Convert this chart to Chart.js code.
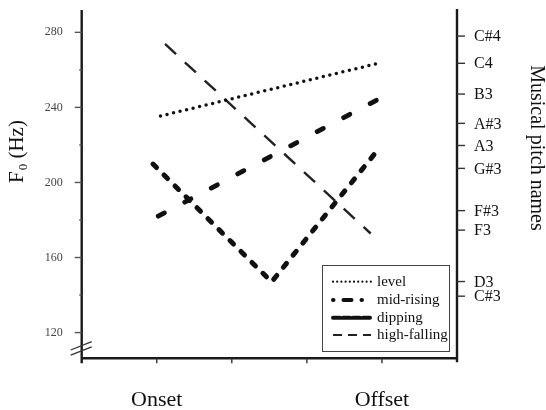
<!DOCTYPE html>
<html>
<head>
<meta charset="utf-8">
<script src="https://cdn.jsdelivr.net/npm/chart.js@4.4.1/dist/chart.umd.min.js"></script>
<style>
  html, body { margin: 0; padding: 0; background: #fff; }
  #wrap { width: 546px; height: 410px; }
</style>
</head>
<body>
<div id="wrap"><canvas id="chart" width="546" height="410"></canvas></div>
<script>
// x positions: 0..5 along the time axis, Onset = 1, Offset = 4
var xTicks = [1, 2, 3, 4];
var xLabels = ['Onset', 'Offset'];
var xLabelPos = [1, 4];

// left axis (Hz)
var yTicks = [120, 160, 200, 240, 280];
var yMinorTicks = [140, 180, 220, 260];

// right axis pitch names and their frequencies
var pitchNames = ['C#4', 'C4', 'B3', 'A#3', 'A3', 'G#3', 'F#3', 'F3', 'D3', 'C#3'];
var pitchHz = [278.0, 263.5, 247.1, 231.5, 219.7, 207.5, 185.0, 174.6, 147.2, 139.4];

// the four tone contours
var seriesNames = ['level', 'mid-rising', 'dipping', 'high-falling'];
var levelX = [1.05, 3.95];
var levelHz = [235.4, 263.5];
var midRisingX = [1.02, 3.93];
var midRisingHz = [182.0, 243.9];
var dippingX = [0.95, 2.53, 3.95];
var dippingHz = [209.8, 147.0, 217.6];
var highFallingX = [1.11, 3.85];
var highFallingHz = [273.8, 172.8];

function toPoints(xs, ys) {
    return xs.map(function(x, i) { return { x: x, y: ys[i] }; });
}

var serif = '"Liberation Serif", "DejaVu Serif", serif';

var lineStyles = [
    { width: 3.5, dash: [0, 6.7], cap: 'round', color: '#111' },
    { width: 4.8, dash: [7, 23], cap: 'round', color: '#111' },
    { width: 5, dash: [5, 10.5], cap: 'round', color: '#111' },
    { width: 2.4, dash: [15, 12], cap: 'butt', color: '#222' }
];
var legendDash = [[0, 4.2], [0.5, 10, 8, 10], [7, 3], [9, 6]];
var legendWidth = [2.2, 4, 4, 2];

var seriesData = [
    toPoints(levelX, levelHz),
    toPoints(midRisingX, midRisingHz),
    toPoints(dippingX, dippingHz),
    toPoints(highFallingX, highFallingHz)
];

var datasets = seriesNames.map(function(name, i) {
    var s = lineStyles[i];
    return {
        label: name,
        data: seriesData[i],
        showLine: true,
        borderColor: s.color,
        borderWidth: s.width,
        borderDash: s.dash,
        borderCapStyle: s.cap,
        borderJoinStyle: 'round',
        pointRadius: 0,
        tension: 0,
        fill: false
    };
});

// Draw the axes, ticks, titles and legend in the style of the figure
var axesPlugin = {
    id: 'figureAxes',
    beforeDatasetsDraw: function(chart) {
        var ctx = chart.ctx;
        var xs = chart.scales.x, ys = chart.scales.y;
        var area = chart.chartArea;
        ctx.save();

        // axis lines
        ctx.strokeStyle = '#1a1a1a';
        ctx.lineWidth = 2.4;
        ctx.lineCap = 'butt';
        ctx.beginPath();
        ctx.moveTo(area.left, area.top);
        ctx.lineTo(area.left, area.bottom + 5);
        ctx.moveTo(area.left - 1, area.bottom);
        ctx.lineTo(area.right + 1, area.bottom);
        ctx.moveTo(area.right, area.top - 1);
        ctx.lineTo(area.right, area.bottom + 4);
        ctx.stroke();

        // left ticks
        ctx.lineWidth = 1.4;
        ctx.strokeStyle = '#555';
        yTicks.forEach(function(v) {
            var y = ys.getPixelForValue(v);
            ctx.beginPath();
            ctx.moveTo(area.left - 7, y);
            ctx.lineTo(area.left, y);
            ctx.stroke();
        });
        yMinorTicks.forEach(function(v) {
            var y = ys.getPixelForValue(v);
            ctx.beginPath();
            ctx.moveTo(area.left - 2.5, y);
            ctx.lineTo(area.left, y);
            ctx.stroke();
        });
        ctx.fillStyle = '#444';
        ctx.font = '12px ' + serif;
        ctx.textAlign = 'right';
        ctx.textBaseline = 'middle';
        yTicks.forEach(function(v) {
            ctx.fillText(String(v), area.left - 19, ys.getPixelForValue(v));
        });

        // axis break marks
        ctx.strokeStyle = '#333';
        ctx.lineWidth = 1.3;
        ctx.beginPath();
        ctx.moveTo(area.left - 11, 350);
        ctx.lineTo(area.left + 10, 341.7);
        ctx.moveTo(area.left - 11, 355.2);
        ctx.lineTo(area.left + 10, 346.9);
        ctx.stroke();

        // right ticks and pitch names
        ctx.strokeStyle = '#333';
        ctx.lineWidth = 1.4;
        ctx.fillStyle = '#111';
        ctx.font = '16px ' + serif;
        ctx.textAlign = 'left';
        pitchNames.forEach(function(name, i) {
            var y = ys.getPixelForValue(pitchHz[i]);
            ctx.beginPath();
            ctx.moveTo(area.right, y);
            ctx.lineTo(area.right + 8, y);
            ctx.stroke();
            ctx.fillText(name, area.right + 17, y + 1);
        });

        // bottom ticks and labels
        ctx.strokeStyle = '#333';
        xTicks.forEach(function(v) {
            var x = xs.getPixelForValue(v);
            ctx.beginPath();
            ctx.moveTo(x, area.bottom);
            ctx.lineTo(x, area.bottom + 5);
            ctx.stroke();
        });
        ctx.fillStyle = '#111';
        ctx.font = '22px ' + serif;
        ctx.textAlign = 'center';
        ctx.textBaseline = 'middle';
        xLabels.forEach(function(lab, i) {
            ctx.fillText(lab, xs.getPixelForValue(xLabelPos[i]), 400);
        });

        // left title: F0 (Hz) with subscript
        ctx.save();
        ctx.translate(23, 183);
        ctx.rotate(-Math.PI / 2);
        ctx.textAlign = 'left';
        ctx.textBaseline = 'alphabetic';
        ctx.font = '21px ' + serif;
        ctx.fillText('F', 0, 0);
        var wF = ctx.measureText('F').width;
        ctx.font = '13px ' + serif;
        ctx.fillText('0', wF + 1, 4);
        var w0 = ctx.measureText('0').width;
        ctx.font = '21px ' + serif;
        ctx.fillText(' (Hz)', wF + w0 + 1, 0);
        ctx.restore();

        // right title
        ctx.save();
        ctx.translate(531, 148);
        ctx.rotate(Math.PI / 2);
        ctx.textAlign = 'center';
        ctx.textBaseline = 'alphabetic';
        ctx.font = '20px ' + serif;
        ctx.fillText('Musical pitch names', 0, 0);
        ctx.restore();

        ctx.restore();
    },
    afterDatasetsDraw: function(chart) {
        var ctx = chart.ctx;
        ctx.save();
        // legend box
        ctx.fillStyle = '#fff';
        ctx.fillRect(322.5, 265.5, 127, 86);
        ctx.strokeStyle = '#444';
        ctx.lineWidth = 1;
        ctx.strokeRect(322.5, 265.5, 127, 86);
        var rows = [281.7, 300, 317.7, 335];
        chart.data.datasets.forEach(function(ds, i) {
            var y = rows[i];
            ctx.strokeStyle = ds.borderColor;
            ctx.lineWidth = legendWidth[i];
            ctx.lineCap = i === 3 ? 'butt' : 'round';
            ctx.setLineDash(legendDash[i]);
            ctx.beginPath();
            ctx.moveTo(333, y);
            ctx.lineTo(371, y);
            ctx.stroke();
            ctx.setLineDash([]);
            ctx.fillStyle = '#111';
            ctx.font = '15px ' + serif;
            ctx.textAlign = 'left';
            ctx.textBaseline = 'middle';
            ctx.fillText(ds.label, 377, y);
        });
        ctx.restore();
    }
};

var chart = new Chart(document.getElementById('chart'), {
    type: 'scatter',
    data: { datasets: datasets },
    options: {
        responsive: false,
        animation: false,
        devicePixelRatio: 1,
        layout: { padding: { left: 81.7, right: 89, top: 10, bottom: 51.7 } },
        plugins: {
            legend: { display: false },
            tooltip: { enabled: false }
        },
        scales: {
            x: { type: 'linear', min: 0, max: 5, display: false },
            y: { type: 'linear', min: 106.3, max: 291.9, display: false }
        }
    },
    plugins: [axesPlugin]
});
</script>
</body>
</html>
